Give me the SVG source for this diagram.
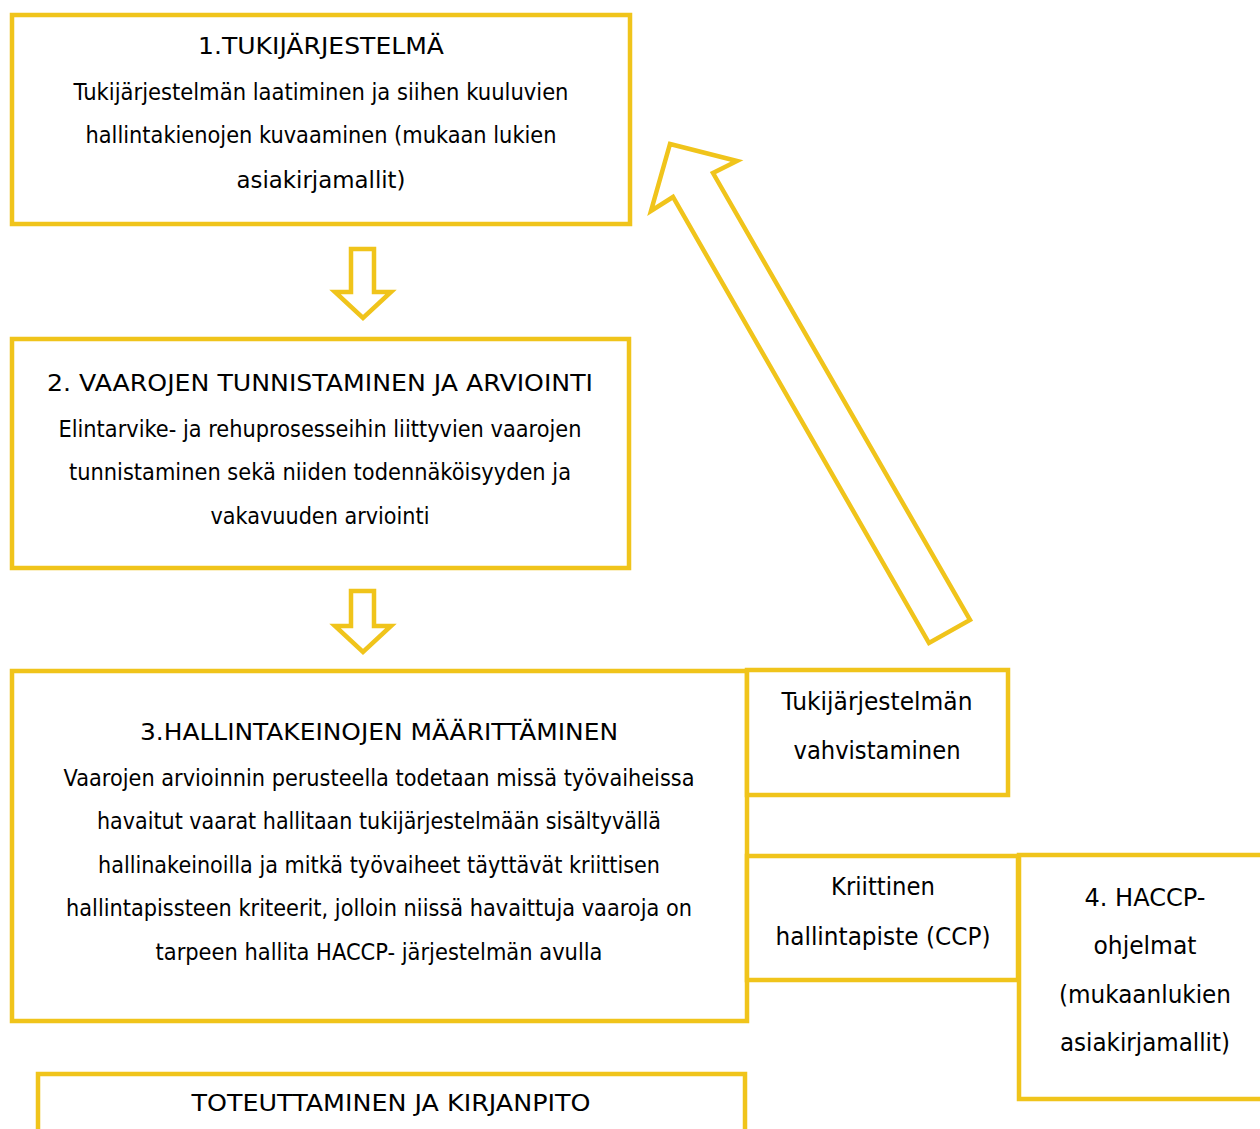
<svg xmlns="http://www.w3.org/2000/svg" width="1260" height="1129" viewBox="0 0 1260 1129">
<style>
.box{fill:#fff;stroke:#F0C41B;stroke-width:4.5}
.arr{fill:#fff;stroke:#F0C41B;stroke-width:4.5;stroke-linejoin:miter}
text{font-family:"DejaVu Sans","Liberation Sans",sans-serif;font-size:23.5px;fill:#000;text-anchor:middle}
.r{font-size:24px}
</style>
<rect width="1260" height="1129" fill="#fff"/>
<g id="connectors">
<polygon class="arr" points="351,249 374,249 374,292 391,292 363,318 335,292 351,292"/>
<polygon class="arr" points="351,591 374,591 374,626 391,626 363,652 335,626 351,626"/>
<polygon class="arr" points="670,144 737,161 713,173 970,620 929,643 673,197 651,211"/>
</g>
<g id="node1">
<rect class="box" x="12" y="15" width="618" height="209"/>
<text x="321" y="54" textLength="246" lengthAdjust="spacingAndGlyphs">1.TUKIJÄRJESTELMÄ</text>
<text x="321" y="100" textLength="495" lengthAdjust="spacingAndGlyphs">Tukijärjestelmän laatiminen ja siihen kuuluvien</text>
<text x="321" y="143" textLength="471" lengthAdjust="spacingAndGlyphs">hallintakienojen kuvaaminen (mukaan lukien</text>
<text x="321" y="188" textLength="169" lengthAdjust="spacingAndGlyphs">asiakirjamallit)</text>
</g>
<g id="node2">
<rect class="box" x="12" y="339" width="617" height="229"/>
<text x="320" y="391" textLength="546" lengthAdjust="spacingAndGlyphs">2. VAAROJEN TUNNISTAMINEN JA ARVIOINTI</text>
<text x="320" y="437" textLength="523" lengthAdjust="spacingAndGlyphs">Elintarvike- ja rehuprosesseihin liittyvien vaarojen</text>
<text x="320" y="480" textLength="502" lengthAdjust="spacingAndGlyphs">tunnistaminen sekä niiden todennäköisyyden ja</text>
<text x="320" y="524" textLength="219" lengthAdjust="spacingAndGlyphs">vakavuuden arviointi</text>
</g>
<g id="node3">
<rect class="box" x="12" y="671" width="735" height="350"/>
<text x="379" y="740" textLength="478" lengthAdjust="spacingAndGlyphs">3.HALLINTAKEINOJEN MÄÄRITTÄMINEN</text>
<text x="379" y="786" textLength="631" lengthAdjust="spacingAndGlyphs">Vaarojen arvioinnin perusteella todetaan missä työvaiheissa</text>
<text x="379" y="829" textLength="564" lengthAdjust="spacingAndGlyphs">havaitut vaarat hallitaan tukijärjestelmään sisältyvällä</text>
<text x="379" y="873" textLength="562" lengthAdjust="spacingAndGlyphs">hallinakeinoilla ja mitkä työvaiheet täyttävät kriittisen</text>
<text x="379" y="916" textLength="626" lengthAdjust="spacingAndGlyphs">hallintapissteen kriteerit, jolloin niissä havaittuja vaaroja on</text>
<text x="379" y="960" textLength="447" lengthAdjust="spacingAndGlyphs">tarpeen hallita HACCP- järjestelmän avulla</text>
</g>
<g id="node5">
<rect class="box" x="38" y="1074" width="707" height="80"/>
<text x="391" y="1111" textLength="399" lengthAdjust="spacingAndGlyphs">TOTEUTTAMINEN JA KIRJANPITO</text>
</g>
<g id="node6">
<rect class="box" x="747" y="670" width="261" height="125"/>
<text class="r" x="877" y="710" textLength="191" lengthAdjust="spacingAndGlyphs">Tukijärjestelmän</text>
<text class="r" x="877" y="759" textLength="167" lengthAdjust="spacingAndGlyphs">vahvistaminen</text>
</g>
<g id="node7">
<rect class="box" x="747" y="856" width="271" height="124"/>
<text class="r" x="883" y="895" textLength="104" lengthAdjust="spacingAndGlyphs">Kriittinen</text>
<text class="r" x="883" y="945" textLength="215" lengthAdjust="spacingAndGlyphs">hallintapiste (CCP)</text>
</g>
<g id="node4">
<rect class="box" x="1019" y="855" width="260" height="244"/>
<text class="r" x="1145" y="906" textLength="121" lengthAdjust="spacingAndGlyphs">4. HACCP-</text>
<text class="r" x="1145" y="954" textLength="103" lengthAdjust="spacingAndGlyphs">ohjelmat</text>
<text class="r" x="1145" y="1003" textLength="172" lengthAdjust="spacingAndGlyphs">(mukaanlukien</text>
<text class="r" x="1145" y="1051" textLength="170" lengthAdjust="spacingAndGlyphs">asiakirjamallit)</text>
</g>
</svg>
